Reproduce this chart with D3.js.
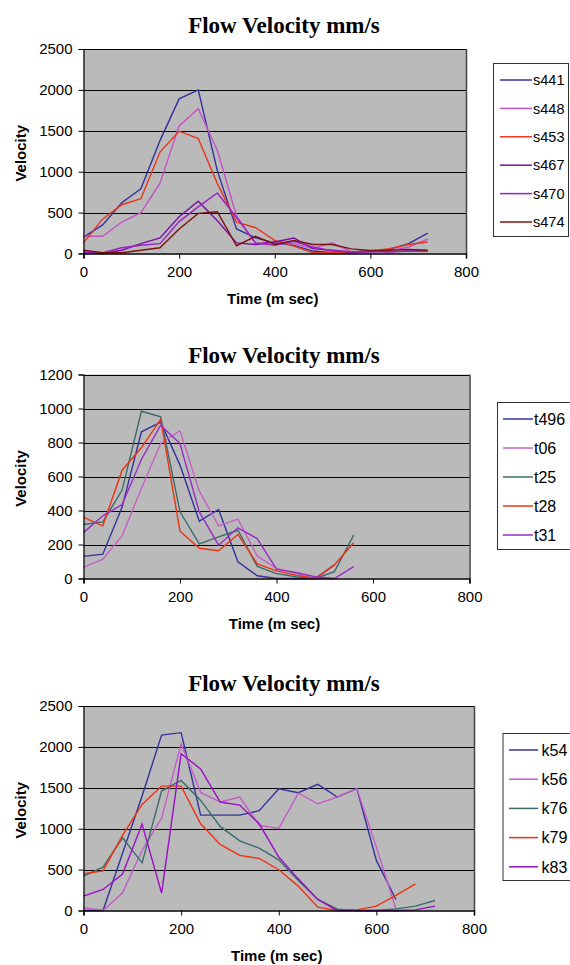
<!DOCTYPE html>
<html>
<head>
<meta charset="utf-8">
<script src="https://cdn.jsdelivr.net/npm/d3@7"></script>
<style>
  html, body { margin: 0; padding: 0; background: #fff; }
  svg { display: block; }
</style>
</head>
<body>
<svg id="chart" width="570" height="965"></svg>
<script>
// ---- shared axis labels ----
const chartTitle = "Flow Velocity mm/s";
const xTitle = "Time (m sec)";
const yTitle = "Velocity";
const xTicks = [0, 200, 400, 600, 800];

// ---- panel 1: s-series, sampled every 40 ms ----
const times1 = [0, 40, 80, 120, 160, 200, 240, 280, 320, 360, 400, 440, 480, 520, 560, 600, 640, 680, 720];
const names1 = ["s441", "s448", "s453", "s467", "s470", "s474"];
const s441 = [200, 350, 620, 790, 1380, 1890, 2000, 1010, 300, 190, 130, 100, 30, 10, 10, 20, 50, 120, 250];
const s448 = [210, 210, 385, 500, 860, 1560, 1770, 1260, 460, 120, 150, 120, 60, 130, 20, 20, 30, 80, 175];
const s453 = [130, 420, 596, 670, 1240, 1495, 1405, 854, 384, 315, 160, 90, 10, 10, 20, 30, 60, 110, 140];
const s467 = [10, 0, 40, 120, 190, 450, 640, 400, 130, 110, 140, 190, 60, 40, 20, 30, 20, 30, 30];
const s470 = [20, 10, 70, 100, 120, 390, 570, 740, 440, 130, 100, 150, 80, 30, 20, 20, 20, 30, 30];
const s474 = [40, 10, 10, 40, 70, 300, 490, 510, 95, 210, 110, 160, 110, 110, 57, 37, 40, 50, 40];
const yTicks1 = [0, 500, 1000, 1500, 2000, 2500];

// ---- panel 2: t-series ----
const times2 = [0, 40, 80, 120, 160, 200, 240, 280, 320, 360, 400, 440, 480, 520, 560];
const names2 = ["t496", "t06", "t25", "t28", "t31"];
const t496 = [130, 143, 420, 863, 920, 667, 337, 406, 98, 16, 0, 0, 0, 80];
const t06 = [65, 114, 251, 530, 794, 869, 514, 310, 349, 133, 59, 30, 0, 0];
const t25 = [318, 333, 520, 984, 951, 392, 204, 245, 284, 71, 29, 10, 0, 40, 255];
const t28 = [359, 310, 637, 769, 937, 278, 178, 163, 259, 86, 45, 20, 0, 80, 210];
const t31 = [270, 369, 435, 700, 902, 794, 392, 196, 298, 235, 55, 35, 10, 0, 70];
const yTicks2 = [0, 200, 400, 600, 800, 1000, 1200];

// ---- panel 3: k-series ----
const times3 = [0, 40, 80, 120, 160, 200, 240, 280, 320, 360, 400, 440, 480, 520, 560, 600, 640, 680, 720];
const names3 = ["k54", "k56", "k76", "k79", "k83"];
const k54 = [0, 0, 700, 1400, 2145, 2174, 1166, 1166, 1166, 1220, 1489, 1440, 1542, 1387, 1489, 612, 135];
const k56 = [33, 0, 216, 734, 1130, 2039, 1444, 1326, 1387, 1040, 1003, 1435, 1305, 1387, 1489, 775, 20];
const k76 = [420, 530, 889, 583, 1460, 1590, 1346, 1028, 852, 763, 620, 367, 135, 16, 0, 0, 20, 53, 122];
const k79 = [449, 485, 918, 1297, 1521, 1521, 1060, 808, 673, 636, 498, 298, 41, 0, 8, 53, 184, 326];
const k83 = [175, 257, 445, 1056, 212, 1917, 1730, 1326, 1289, 1060, 653, 387, 135, 0, 0, 0, 0, 8, 53];
const yTicks3 = [0, 500, 1000, 1500, 2000, 2500];

const svg = d3.select("#chart");
const sans = "'Liberation Sans', Arial, sans-serif";
const serif = "'Liberation Serif', 'Times New Roman', serif";

function drawPanel(cfg) {
  const x = d3.scaleLinear().domain([0, 800]).range([cfg.left, cfg.right]);
  const y = d3.scaleLinear().domain([0, cfg.yMax]).range([cfg.bottom, cfg.top]);
  const g = svg.append("g");

  // plot background
  g.append("rect")
    .attr("x", cfg.left).attr("y", cfg.top)
    .attr("width", cfg.right - cfg.left).attr("height", cfg.bottom - cfg.top)
    .attr("fill", "#bababa");

  // horizontal gridlines
  g.selectAll(".grid").data(cfg.yTicks.filter(v => v > 0)).enter().append("line")
    .attr("x1", cfg.left).attr("x2", cfg.right)
    .attr("y1", d => Math.round(y(d)) + 0.5).attr("y2", d => Math.round(y(d)) + 0.5)
    .attr("stroke", "#000").attr("stroke-width", 1);

  // right border
  g.append("line")
    .attr("x1", cfg.right + 0.5).attr("x2", cfg.right + 0.5)
    .attr("y1", cfg.top).attr("y2", cfg.bottom)
    .attr("stroke", "#444").attr("stroke-width", 1.5);

  // series lines
  const line = d3.line()
    .x((d, i) => x(cfg.times[i]))
    .y(d => y(d));
  cfg.series.forEach(s => {
    g.append("path")
      .attr("d", line(s.values))
      .attr("fill", "none")
      .attr("stroke", s.color)
      .attr("stroke-width", 1.4)
      .attr("stroke-linejoin", "miter");
  });

  // y axis
  const yAxis = d3.axisLeft(y).tickValues(cfg.yTicks).tickSize(5).tickPadding(6)
    .tickFormat(d3.format("d"));
  const ya = g.append("g").attr("transform", `translate(${cfg.left},0)`).call(yAxis);
  ya.select(".domain").attr("stroke", "#000").attr("stroke-width", 1.2);
  ya.selectAll(".tick line").attr("stroke", "#000");
  ya.selectAll("text").attr("font-family", sans).attr("font-size", 15).attr("fill", "#000");

  // x axis
  const xAxis = d3.axisBottom(x).tickValues(xTicks).tickSize(5).tickPadding(8)
    .tickFormat(d3.format("d"));
  const xa = g.append("g").attr("transform", `translate(0,${cfg.bottom})`).call(xAxis);
  xa.select(".domain").attr("stroke", "#000").attr("stroke-width", 1.5);
  xa.selectAll(".tick line").attr("stroke", "#000");
  xa.selectAll("text").attr("font-family", sans).attr("font-size", 15).attr("fill", "#000");

  // chart title
  g.append("text")
    .attr("x", 284).attr("y", cfg.top - cfg.titleGap)
    .attr("text-anchor", "middle")
    .attr("font-family", serif).attr("font-weight", "bold").attr("font-size", 23)
    .text(chartTitle);

  // axis titles
  g.append("text")
    .attr("x", (cfg.left + cfg.right) / 2 - 2).attr("y", cfg.bottom + 50)
    .attr("text-anchor", "middle")
    .attr("font-family", sans).attr("font-weight", "bold").attr("font-size", 15)
    .text(xTitle);
  g.append("text")
    .attr("transform", `translate(25.5,${(cfg.top + cfg.bottom) / 2 + 2}) rotate(-90)`)
    .attr("text-anchor", "middle")
    .attr("font-family", sans).attr("font-weight", "bold").attr("font-size", 15)
    .text(yTitle);

  // legend
  const L = cfg.legend;
  g.append("rect")
    .attr("x", L.x + 0.5).attr("y", L.y + 0.5)
    .attr("width", L.w).attr("height", L.h)
    .attr("fill", "#fff").attr("stroke", "#333").attr("stroke-width", 1);
  cfg.series.forEach((s, i) => {
    const ly = L.firstY + i * L.step;
    g.append("line")
      .attr("x1", L.lineX1).attr("x2", L.lineX2)
      .attr("y1", ly).attr("y2", ly)
      .attr("stroke", s.color).attr("stroke-width", 1.5);
    g.append("text")
      .attr("x", L.textX).attr("y", ly + L.fontSize * 0.36)
      .attr("font-family", sans).attr("font-size", L.fontSize)
      .text(s.name);
  });
}

const colors1 = ["#352f9e", "#c552c5", "#e8361a", "#7a0ea8", "#9c20c2", "#7d1212"];
drawPanel({
  left: 83.5, right: 466, top: 49, bottom: 253.5, yMax: 2500, yTicks: yTicks1,
  times: times1, titleGap: 16,
  series: [s441, s448, s453, s467, s470, s474].map((v, i) => ({ name: names1[i], values: v, color: colors1[i] })),
  legend: { x: 493, y: 63, w: 75, h: 173, firstY: 80, step: 28.4, lineX1: 500, lineX2: 532, textX: 533, fontSize: 14.5 }
});

const colors2 = ["#33339e", "#c660c8", "#3d6b6b", "#ee3311", "#9a2cc6"];
drawPanel({
  left: 83.5, right: 469.5, top: 374.5, bottom: 578.5, yMax: 1200, yTicks: yTicks2,
  times: times2, titleGap: 12,
  series: [t496, t06, t25, t28, t31].map((v, i) => ({ name: names2[i], values: v, color: colors2[i] })),
  legend: { x: 497, y: 402, w: 80, h: 147, firstY: 419, step: 29, lineX1: 503, lineX2: 533, textX: 534, fontSize: 16 }
});

const colors3 = ["#33339e", "#c45cc8", "#3d6b6b", "#ee3311", "#9a10c6"];
drawPanel({
  left: 83.5, right: 474, top: 706, bottom: 910.5, yMax: 2500, yTicks: yTicks3,
  times: times3, titleGap: 15,
  series: [k54, k56, k76, k79, k83].map((v, i) => ({ name: names3[i], values: v, color: colors3[i] })),
  legend: { x: 502.5, y: 733, w: 80, h: 147, firstY: 750, step: 29.2, lineX1: 509, lineX2: 538, textX: 541.5, fontSize: 16 }
});
</script>
</body>
</html>
